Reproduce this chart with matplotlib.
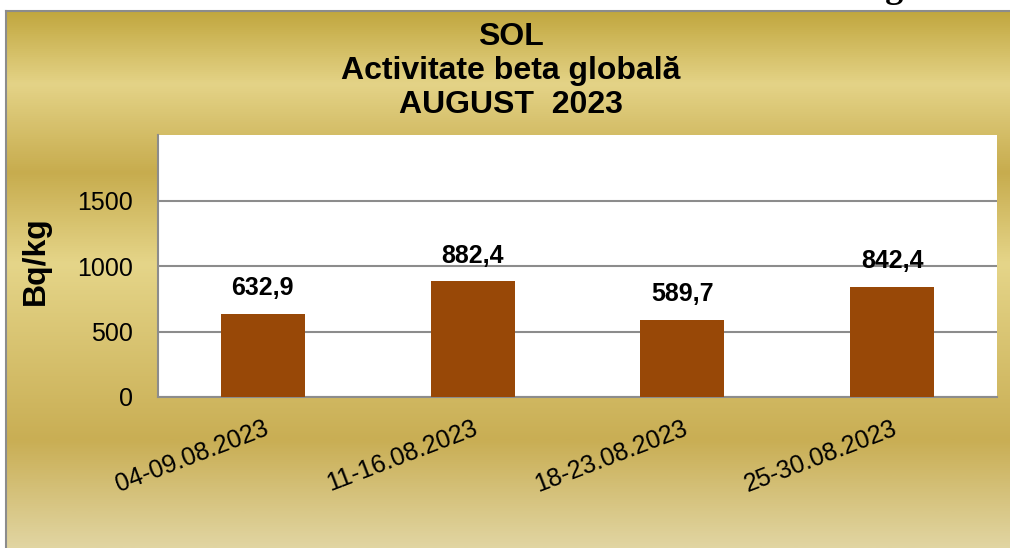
import numpy as np
import matplotlib
matplotlib.use("Agg")
import matplotlib.pyplot as plt
from matplotlib.colors import LinearSegmentedColormap

categories = ["04-09.08.2023", "11-16.08.2023", "18-23.08.2023", "25-30.08.2023"]
values = [632.9, 882.4, 589.7, 842.4]
value_labels = ["632,9", "882,4", "589,7", "842,4"]
yticks = [0, 500, 1000, 1500]
title_lines = ["SOL", "Activitate beta globală", "AUGUST  2023"]

W, H = 1010, 548
fig = plt.figure(figsize=(W / 100, H / 100), dpi=100)
fig.patch.set_facecolor("white")
plt.rcParams['font.family'] = ['Liberation Sans', 'DejaVu Sans']

# gradient background frame
fx0, fy0 = 6, 11  # pixels from left / top
bg = fig.add_axes([fx0 / W, 0, 1 - fx0 / W, 1 - fy0 / H], zorder=0)
stops = [(0.0, "#C1A73F"), (0.135, "#E4D387"), (0.30, "#C7AC4E"),
         (0.47, "#E5D589"), (0.80, "#C9AE54"), (1.0, "#E1D5A2")]
cmap = LinearSegmentedColormap.from_list("gold", stops)
grad = np.linspace(0, 1, 512).reshape(-1, 1)
bg.imshow(grad, aspect="auto", cmap=cmap, extent=[0, 1, 0, 1], origin="upper")
bg.set_xlim(0, 1)
bg.set_ylim(0, 1)
bg.set_xticks([])
bg.set_yticks([])
for s in ["right", "bottom"]:
    bg.spines[s].set_visible(False)
for s in ["left", "top"]:
    bg.spines[s].set_color("#8C8C8C")
    bg.spines[s].set_linewidth(1.5)

# partial caption at very top right (mostly cut off, as in the reference)
fig.text(853 / W, 1 + 3 / H, "Fig. 3.5", ha="left", va="baseline", fontsize=26,
         family="Liberation Serif", fontweight="bold", color="black")

# plot area
px0, px1, py0, py1 = 158, 997, 135, 397
ax = fig.add_axes([px0 / W, 1 - py1 / H, (px1 - px0) / W, (py1 - py0) / H], zorder=1)
ax.set_facecolor("white")
x = np.arange(len(categories))
ax.bar(x, values, width=0.4, color="#984807", zorder=3)
ax.set_xlim(-0.5, len(categories) - 0.5)
ax.set_ylim(0, 2000)
ax.set_yticks(yticks)
ax.set_yticklabels([str(t) for t in yticks], fontsize=18)
ax.yaxis.grid(True, color="#8C8C8C", linewidth=1.5, zorder=1)
ax.tick_params(axis="y", length=0, pad=18)
ax.tick_params(axis="x", length=0, pad=14)
ax.set_xticks(x)
ax.set_xticklabels(categories, fontsize=18, rotation=21, ha="right",
                   rotation_mode="anchor")
for s in ["top", "right"]:
    ax.spines[s].set_visible(False)
for s in ["left", "bottom"]:
    ax.spines[s].set_color("#8C8C8C")
    ax.spines[s].set_linewidth(1.5)
ax.set_ylabel("Bq/kg", fontsize=23, fontweight="bold")
ax.yaxis.set_label_coords((51 - px0) / (px1 - px0), 0.52)

for xi, v, lab in zip(x, values, value_labels):
    ax.annotate(lab, (xi, v), xytext=(0, 10), textcoords="offset points",
                ha="center", va="bottom", fontsize=18, fontweight="bold")

for i, line in enumerate(title_lines):
    fig.text(511 / W, 1 - (37 + 34 * i) / H, line, ha="center", va="center",
             fontsize=23, fontweight="bold")

fig.savefig("out.png", dpi=100)
